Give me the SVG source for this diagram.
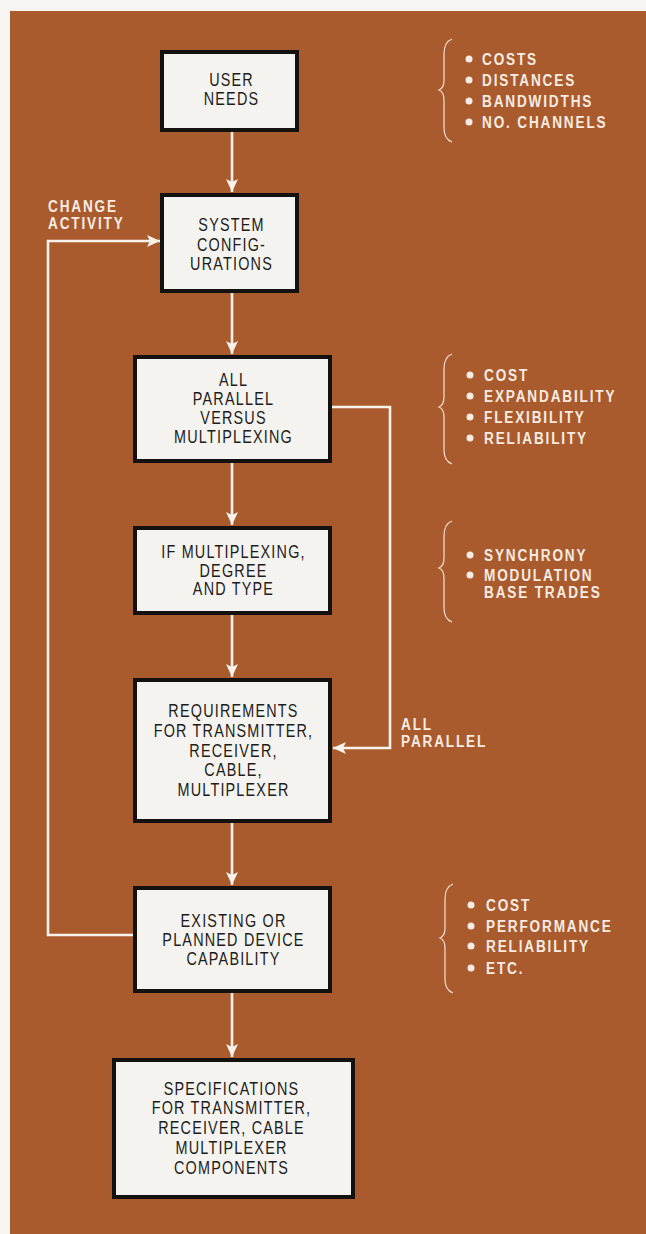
<svg xmlns="http://www.w3.org/2000/svg" width="646" height="1234" viewBox="0 0 646 1234">
<defs>
<style>
.box{fill:#f4f3ef;stroke:#141210;stroke-width:4}
.bt{font-family:"Liberation Sans",Arial,sans-serif;font-size:18px;letter-spacing:1.5px;fill:#1e1c1a;text-anchor:middle}
.lt{font-family:"Liberation Sans",Arial,sans-serif;font-weight:bold;font-size:17px;letter-spacing:2.3px;fill:#f6ece4}
.ln{fill:none;stroke:#f8f2ec;stroke-width:2.6}
.br{fill:none;stroke:#ecd9cb;stroke-width:1.3}
.bu{fill:#f6ece4}
</style>
<marker id="ah" viewBox="0 0 13 12" refX="13" refY="6" markerWidth="13" markerHeight="12" markerUnits="userSpaceOnUse" orient="auto">
<path d="M0,0 L13,6 L0,12 L3,6 Z" fill="#f8f2ec"/>
</marker>
</defs>
<rect x="0" y="0" width="646" height="1234" fill="#f7f5f2"/>
<rect x="10" y="11" width="636" height="1223" fill="#aa5b2d"/>

<g id="connectors">
<line class="ln" x1="232" y1="132" x2="232" y2="192" marker-end="url(#ah)"/>
<line class="ln" x1="232" y1="293" x2="232" y2="354" marker-end="url(#ah)"/>
<line class="ln" x1="232" y1="463" x2="232" y2="525" marker-end="url(#ah)"/>
<line class="ln" x1="232" y1="615" x2="232" y2="677" marker-end="url(#ah)"/>
<line class="ln" x1="232" y1="823" x2="232" y2="885" marker-end="url(#ah)"/>
<line class="ln" x1="232" y1="993" x2="232" y2="1057" marker-end="url(#ah)"/>
<polyline class="ln" points="332,407 390,407 390,748 333,748" marker-end="url(#ah)"/>
<polyline class="ln" points="133,935 48,935 48,241 160,241" marker-end="url(#ah)"/>
</g>

<g id="label-change-activity">
<g transform="scale(0.8 1)">
<text class="lt" x="60" y="212">CHANGE</text>
<text class="lt" x="60" y="229">ACTIVITY</text>
</g>
</g>
<g id="label-all-parallel">
<g transform="scale(0.8 1)">
<text class="lt" x="501.25" y="730">ALL</text>
<text class="lt" x="501.25" y="747">PARALLEL</text>
</g>
</g>

<g id="node-user-needs">
<rect class="box" x="162" y="52" width="135" height="78"/>
<g transform="scale(0.8 1)">
<text class="bt" x="289.4" y="86">USER</text>
<text class="bt" x="289.4" y="105">NEEDS</text>
</g>
</g>
<g id="node-system-configurations">
<rect class="box" x="162" y="195" width="135" height="96"/>
<g transform="scale(0.8 1)">
<text class="bt" x="289.4" y="231">SYSTEM</text>
<text class="bt" x="289.4" y="251">CONFIG-</text>
<text class="bt" x="289.4" y="270">URATIONS</text>
</g>
</g>
<g id="node-all-parallel">
<rect class="box" x="135" y="357" width="195" height="104"/>
<g transform="scale(0.8 1)">
<text class="bt" x="291.9" y="386">ALL</text>
<text class="bt" x="291.9" y="405">PARALLEL</text>
<text class="bt" x="291.9" y="424">VERSUS</text>
<text class="bt" x="291.9" y="443">MULTIPLEXING</text>
</g>
</g>
<g id="node-if-multiplexing">
<rect class="box" x="135" y="528" width="195" height="85"/>
<g transform="scale(0.8 1)">
<text class="bt" x="291.9" y="558">IF MULTIPLEXING,</text>
<text class="bt" x="291.9" y="577">DEGREE</text>
<text class="bt" x="291.9" y="595">AND TYPE</text>
</g>
</g>
<g id="node-requirements">
<rect class="box" x="135" y="680" width="195" height="141"/>
<g transform="scale(0.8 1)">
<text class="bt" x="291.9" y="717">REQUIREMENTS</text>
<text class="bt" x="291.9" y="737">FOR TRANSMITTER,</text>
<text class="bt" x="291.9" y="757">RECEIVER,</text>
<text class="bt" x="291.9" y="776">CABLE,</text>
<text class="bt" x="291.9" y="796">MULTIPLEXER</text>
</g>
</g>
<g id="node-existing">
<rect class="box" x="135" y="888" width="195" height="103"/>
<g transform="scale(0.8 1)">
<text class="bt" x="291.9" y="927">EXISTING OR</text>
<text class="bt" x="291.9" y="946">PLANNED DEVICE</text>
<text class="bt" x="291.9" y="965">CAPABILITY</text>
</g>
</g>
<g id="node-specifications">
<rect class="box" x="114" y="1060" width="239" height="137"/>
<g transform="scale(0.8 1)">
<text class="bt" x="289.4" y="1095">SPECIFICATIONS</text>
<text class="bt" x="289.4" y="1114">FOR TRANSMITTER,</text>
<text class="bt" x="289.4" y="1134">RECEIVER, CABLE</text>
<text class="bt" x="289.4" y="1154">MULTIPLEXER</text>
<text class="bt" x="289.4" y="1174">COMPONENTS</text>
</g>
</g>

<g id="list-user-needs">
<path class="br" d="M452,39 Q444,42 444,54 L444,80 Q444,88 439,90 Q444,92 444,100 L444,128 Q444,139 452,142"/>
<circle class="bu" cx="469" cy="59" r="3.5"/>
<circle class="bu" cx="469" cy="80" r="3.5"/>
<circle class="bu" cx="469" cy="101" r="3.5"/>
<circle class="bu" cx="469" cy="122" r="3.5"/>
<g transform="scale(0.8 1)">
<text class="lt" x="602.5" y="65">COSTS</text>
<text class="lt" x="602.5" y="86">DISTANCES</text>
<text class="lt" x="602.5" y="107">BANDWIDTHS</text>
<text class="lt" x="602.5" y="128">NO. CHANNELS</text>
</g>
</g>
<g id="list-all-parallel">
<path class="br" d="M452,354 Q444,357 444,369 L444,397 Q444,405 439,407 Q444,409 444,417 L444,450 Q444,461 452,464"/>
<circle class="bu" cx="470" cy="375" r="3.5"/>
<circle class="bu" cx="470" cy="396" r="3.5"/>
<circle class="bu" cx="470" cy="417" r="3.5"/>
<circle class="bu" cx="470" cy="438" r="3.5"/>
<g transform="scale(0.8 1)">
<text class="lt" x="605" y="381">COST</text>
<text class="lt" x="605" y="402">EXPANDABILITY</text>
<text class="lt" x="605" y="423">FLEXIBILITY</text>
<text class="lt" x="605" y="444">RELIABILITY</text>
</g>
</g>
<g id="list-if-multiplexing">
<path class="br" d="M452,521 Q444,524 444,536 L444,558 Q444,566 439,568 Q444,570 444,578 L444,608 Q444,619 452,622"/>
<circle class="bu" cx="470" cy="555" r="3.5"/>
<circle class="bu" cx="470" cy="575" r="3.5"/>
<g transform="scale(0.8 1)">
<text class="lt" x="605" y="561">SYNCHRONY</text>
<text class="lt" x="605" y="581">MODULATION</text>
<text class="lt" x="605" y="598">BASE TRADES</text>
</g>
</g>
<g id="list-existing">
<path class="br" d="M453,884 Q445,887 445,899 L445,928 Q445,936 440,938 Q445,940 445,948 L445,979 Q445,990 453,993"/>
<circle class="bu" cx="471" cy="905" r="3.5"/>
<circle class="bu" cx="471" cy="926" r="3.5"/>
<circle class="bu" cx="471" cy="946" r="3.5"/>
<circle class="bu" cx="471" cy="968" r="3.5"/>
<g transform="scale(0.8 1)">
<text class="lt" x="607.5" y="911">COST</text>
<text class="lt" x="607.5" y="932">PERFORMANCE</text>
<text class="lt" x="607.5" y="952">RELIABILITY</text>
<text class="lt" x="607.5" y="974">ETC.</text>
</g>
</g>
</svg>
